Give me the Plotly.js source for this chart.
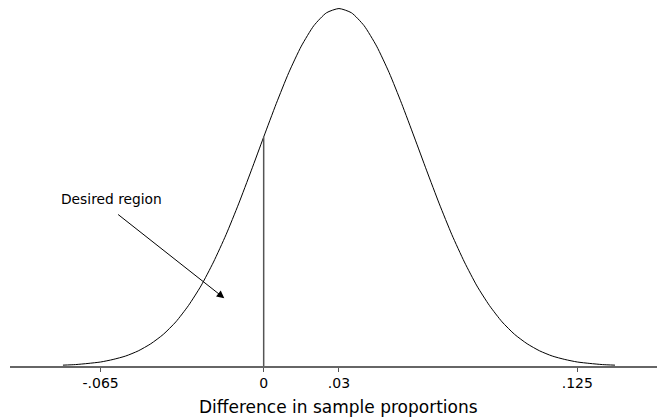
<!DOCTYPE html>
<html>
<head>
<meta charset="utf-8">
<script src="https://cdn.plot.ly/plotly-3.0.1.min.js"></script>
<style>html,body{margin:0;padding:0;background:#fff;overflow:hidden;}#chart{width:657px;height:420px;}</style>
</head>
<body>
<div id="chart"></div>
<script>
// Values (height of the bell at each x)
var xValues = [-0.08, -0.075, -0.07, -0.065, -0.06, -0.055, -0.05, -0.045, -0.04, -0.035,
  -0.03, -0.025, -0.02, -0.015, -0.01, -0.005, 0, 0.005, 0.01, 0.015,
  0.02, 0.025, 0.03, 0.035, 0.04, 0.045, 0.05, 0.055, 0.06, 0.065,
  0.07, 0.075, 0.08, 0.085, 0.09, 0.095, 0.1, 0.105, 0.11, 0.115,
  0.12, 0.125, 0.13, 0.135, 0.14];
var yValues = [0.03, 0.05, 0.09, 0.14, 0.23, 0.35, 0.53, 0.78, 1.11, 1.55,
  2.12, 2.81, 3.65, 4.61, 5.69, 6.85, 8.04, 9.21, 10.30, 11.23,
  11.95, 12.40, 12.55, 12.40, 11.95, 11.23, 10.30, 9.21, 8.04, 6.85,
  5.69, 4.61, 3.65, 2.81, 2.12, 1.55, 1.11, 0.78, 0.53, 0.35,
  0.23, 0.14, 0.09, 0.05, 0.03];
var tickValues = [-0.065, 0, 0.03, 0.125];
var tickLabels = ['-.065', '0', '.03', '.125'];
var xTitle = 'Difference in sample proportions';
var cutoffX = 0;
var cutoffHeight = yValues[xValues.indexOf(cutoffX)];
var annotationText = 'Desired region';
var annotationPos = [-0.0605, 5.85];
var arrowTail = [-0.0586, 5.36];
var arrowHead = [-0.0157, 2.38];

var font = 'Verdana, "DejaVu Sans", sans-serif';

var trace = {
  x: xValues, y: yValues, type: 'scatter', mode: 'lines',
  line: {color: '#000', width: 1, shape: 'spline', smoothing: 0.6},
  hoverinfo: 'skip', showlegend: false
};

var layout = {
  width: 657, height: 420,
  margin: {l: 10, r: 0, t: 0, b: 54},
  paper_bgcolor: '#fff', plot_bgcolor: '#fff',
  showlegend: false,
  xaxis: {
    range: [-0.1011, 0.15675],
    tickmode: 'array', tickvals: tickValues, ticktext: tickLabels,
    ticks: 'outside', ticklen: 4, tickwidth: 1, tickcolor: '#555',
    showline: true, linecolor: '#666', linewidth: 1.5,
    showgrid: false, zeroline: false,
    tickfont: {family: font, size: 14, color: '#000'}
  },
  yaxis: {
    range: [0, 12.85], visible: false, showgrid: false, zeroline: false
  },
  shapes: [{
    type: 'line', xref: 'x', yref: 'y',
    x0: cutoffX, x1: cutoffX, y0: 0, y1: cutoffHeight,
    line: {color: '#555', width: 1.5}
  }],
  annotations: [{
    xref: 'x', yref: 'y', x: annotationPos[0], y: annotationPos[1],
    text: annotationText, showarrow: false,
    font: {family: font, size: 13.8, color: '#000'}
  }, {
    xref: 'x', yref: 'y', axref: 'x', ayref: 'y',
    x: arrowHead[0], y: arrowHead[1], ax: arrowTail[0], ay: arrowTail[1],
    text: '', showarrow: true, arrowhead: 2, arrowsize: 1.5, arrowwidth: 1, arrowcolor: '#000'
  }, {
    xref: 'paper', yref: 'paper', x: 0.5077, y: 0, yshift: -41,
    xanchor: 'center', yanchor: 'middle',
    text: xTitle, showarrow: false,
    font: {family: font, size: 17, color: '#000'}
  }]
};

Plotly.newPlot('chart', [trace], layout, {staticPlot: true, displayModeBar: false});
</script>
</body>
</html>
